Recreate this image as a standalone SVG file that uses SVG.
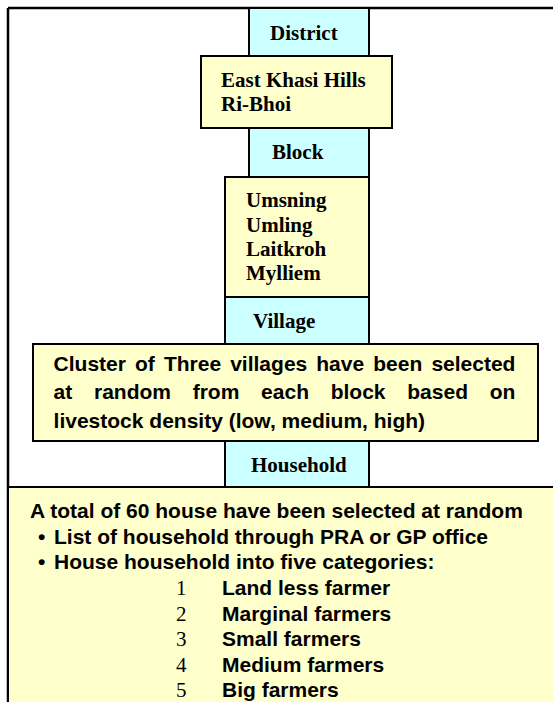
<svg xmlns="http://www.w3.org/2000/svg" width="553" height="702" viewBox="0 0 553 702">
<style>
.cy{fill:#CCFFFF;stroke:#000;stroke-width:2}
.ye{fill:#FFFFCC;stroke:#000;stroke-width:2}
.tm{font-family:"Liberation Serif","Times New Roman",serif;font-weight:bold;font-size:21px;fill:#000}
.ar{font-family:"Liberation Sans",Arial,sans-serif;font-weight:bold;font-size:21px;fill:#000}
.num{font-family:"Liberation Serif","Times New Roman",serif;font-size:21px;fill:#000}
</style>
<rect x="0" y="0" width="553" height="702" fill="#fff"/>
<g id="frame" fill="none" stroke="#000">
<line x1="8" y1="8" x2="553" y2="8" stroke-width="2.5"/>
<line x1="8" y1="8" x2="8" y2="702" stroke-width="2.5"/>
</g>
<g id="household-detail">
<rect x="8" y="487" width="550" height="220" class="ye" stroke-width="3"/>
<text class="ar" x="30" y="518">A total of 60 house have been selected at random</text>
<text class="ar" x="38" y="544">•</text>
<text class="ar" x="54" y="544">List of household through PRA or GP office</text>
<text class="ar" x="38" y="569">•</text>
<text class="ar" x="54" y="569">House household into five categories:</text>
<text class="num" x="176" y="595">1</text>
<text class="ar" x="222" y="595">Land less farmer</text>
<text class="num" x="176" y="621">2</text>
<text class="ar" x="222" y="621">Marginal farmers</text>
<text class="num" x="176" y="646">3</text>
<text class="ar" x="222" y="646">Small farmers</text>
<text class="num" x="176" y="672">4</text>
<text class="ar" x="222" y="672">Medium farmers</text>
<text class="num" x="176" y="697">5</text>
<text class="ar" x="222" y="697">Big farmers</text>
</g>
<g id="district">
<rect x="249" y="8" width="120" height="48" class="cy"/>
<text class="tm" x="270" y="40">District</text>
</g>
<g id="districts-list">
<rect x="201" y="56" width="191" height="72" class="ye"/>
<text class="tm" x="221" y="87">East Khasi Hills</text>
<text class="tm" x="221" y="111">Ri-Bhoi</text>
</g>
<g id="block">
<rect x="249" y="128" width="120" height="49" class="cy"/>
<text class="tm" x="272" y="159">Block</text>
</g>
<g id="blocks-list">
<rect x="225" y="177" width="144" height="120" class="ye"/>
<text class="tm" x="246" y="207">Umsning</text>
<text class="tm" x="246" y="232">Umling</text>
<text class="tm" x="246" y="256">Laitkroh</text>
<text class="tm" x="246" y="280">Mylliem</text>
</g>
<g id="village">
<rect x="225" y="297" width="144" height="48" class="cy"/>
<text class="tm" x="253" y="328">Village</text>
</g>
<g id="household">
<rect x="225" y="430" width="144" height="57" class="cy"/>
<text class="tm" x="251" y="472">Household</text>
</g>
<g id="cluster">
<rect x="33" y="344" width="505" height="97" class="ye"/>
<text class="ar" y="371"><tspan x="53.6">Cluster</tspan><tspan x="135">of</tspan><tspan x="163.9">Three</tspan><tspan x="230.2">villages</tspan><tspan x="316.3">have</tspan><tspan x="373.3">been</tspan><tspan x="431.4">selected</tspan></text>
<text class="ar" y="399"><tspan x="53.6">at</tspan><tspan x="94">random</tspan><tspan x="192.7">from</tspan><tspan x="261.1">each</tspan><tspan x="330.7">block</tspan><tspan x="407.3">based</tspan><tspan x="489.7">on</tspan></text>
<text class="ar" x="53.6" y="428">livestock density (low, medium, high)</text>
</g>
<g id="connectors"/>
</svg>
